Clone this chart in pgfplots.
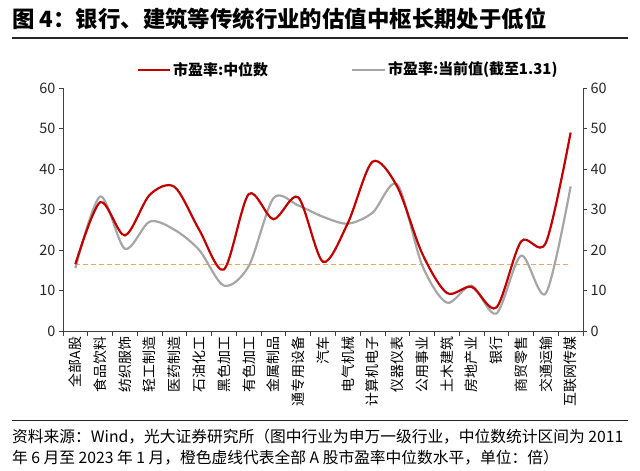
\documentclass[border=0pt]{standalone}
\usepackage{fontspec}
\setmainfont{Noto Sans CJK SC}
\usepackage{pgfplots}
\pgfplotsset{compat=1.18}
\definecolor{cred}{HTML}{C00000}
\definecolor{cgray}{HTML}{A6A6A6}
\definecolor{corange}{HTML}{F4A460}
\definecolor{axgray}{HTML}{404040}
\begin{document}
\begin{tikzpicture}[x=1bp,y=1bp]
\path (0,0) rectangle (640,471);
% title
\node[anchor=west,inner sep=0] at (12,452) {\fontsize{22.5}{24}\selectfont\bfseries 图 4：银行、建筑等传统行业的估值中枢长期处于低位};
\draw[line width=1.2bp,black!85] (12,433) -- (628,433);
% legend
\draw[cred,line width=2.2bp] (138,401) -- (170,401);
\node[anchor=west,inner sep=0] at (173,401) {\fontsize{15}{17}\selectfont\bfseries 市盈率:中位数};
\draw[cgray,line width=2.2bp] (352,401) -- (385,401);
\node[anchor=west,inner sep=0] at (388,401) {\fontsize{15}{17}\selectfont\bfseries 市盈率:当前值(截至1.31)};
% source
\draw[line width=0.8bp,black!85] (12,51) -- (628,51);
\node[anchor=west,inner sep=0] at (12,34) {\fontsize{15.8}{17}\selectfont 资料来源：Wind，光大证券研究所（图中行业为申万一级行业，中位数统计区间为 2011};
\node[anchor=west,inner sep=0] at (12,13) {\fontsize{15.8}{17}\selectfont 年 6 月至 2023 年 1 月，橙色虚线代表全部 A 股市盈率中位数水平，单位：倍）};
\begin{axis}[
  at={(63bp,140bp)}, anchor=south west,
  scale only axis, width=520bp, height=243bp,
  xmin=-0.5, xmax=20.5, ymin=0, ymax=60,
  axis y line*=left, axis x line*=bottom,
  axis line style={axgray, line width=0.8bp},
  ytick={0,10,...,60},
  xtick={0,...,20},
  xticklabels={全部A股,食品饮料,纺织服饰,轻工制造,医药制造,石油化工,黑色加工,有色加工,金属制品,通专用设备,汽车,电气机械,计算机电子,仪器仪表,公用事业,土木建筑,房地产业,银行,商贸零售,交通运输,互联网传媒},
  major x tick style={draw=none},
  minor xtick={-0.5,0.5,...,20.5},
  minor tick length=5bp,
  minor x tick style={axgray, line width=0.8bp},
  tick align=outside,
  major tick length=4bp,
  major y tick style={axgray, line width=0.8bp},
  xticklabel style={rotate=90, anchor=east, font=\fontsize{14}{15}\selectfont, inner sep=1.5bp},
  yticklabel style={font=\fontsize{14.5}{15}\selectfont, text=black!85},
  /pgf/number format/assume math mode=true,
  clip=false,
]
\addplot[corange, line width=1.3bp, dash pattern=on 5bp off 3bp] coordinates {(0,16.4) (20,16.4)};
\addplot[cgray, line width=2.2bp, smooth, tension=0.5] coordinates {
(0,15.5) (1,33.2) (2,20.3) (3,27) (4,25) (5,20) (6,11.2) (7,16) (8,32.8) (9,31) (10,28.2) (11,26.5) (12,29.2) (13,36.2) (14,16.3) (15,7) (16,11.2) (17,4.3) (18,18.6) (19,9.3) (20,35.7)};
\addplot[cred, line width=2.2bp, smooth, tension=0.5] coordinates {
(0,16.5) (1,31.8) (2,23.6) (3,33.6) (4,35.6) (5,25) (6,15.2) (7,33.8) (8,27.6) (9,33) (10,17.1) (11,26.6) (12,41.8) (13,35.6) (14,19.2) (15,9.4) (16,10.9) (17,5.8) (18,22.1) (19,21.8) (20,49)};
\end{axis}
\begin{axis}[
  at={(63bp,140bp)}, anchor=south west,
  scale only axis, width=520bp, height=243bp,
  xmin=-0.5, xmax=20.5, ymin=0, ymax=60,
  axis y line*=right, axis x line=none,
  axis line style={axgray, line width=0.8bp},
  ytick={0,10,...,60},
  tick align=outside,
  major tick length=4bp,
  major y tick style={axgray, line width=0.8bp},
  yticklabel style={font=\fontsize{14.5}{15}\selectfont, text=black!85},
  /pgf/number format/assume math mode=true,
]
\addplot[draw=none] coordinates {(0,0)};
\end{axis}
\end{tikzpicture}
\end{document}
